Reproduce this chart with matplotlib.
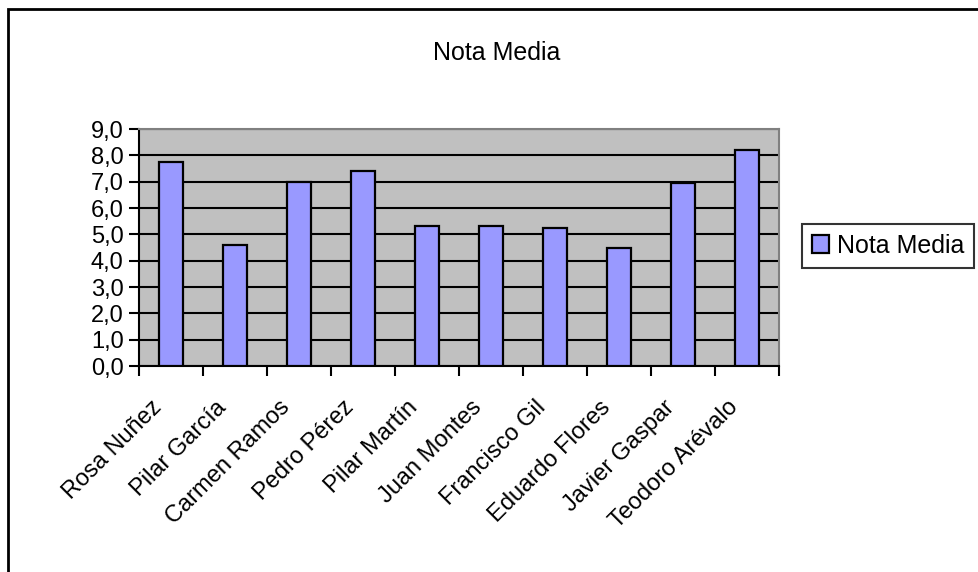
import matplotlib.pyplot as plt
from matplotlib.patches import Rectangle
from matplotlib.ticker import FuncFormatter
from matplotlib.transforms import ScaledTranslation

# data
alumnos = ['Rosa Nuñez', 'Pilar García', 'Carmen Ramos', 'Pedro Pérez', 'Pilar Martín',
           'Juan Montes', 'Francisco Gil', 'Eduardo Flores', 'Javier Gaspar', 'Teodoro Arévalo']
nota_media = [7.75, 4.6, 7.0, 7.4, 5.3, 5.3, 5.25, 4.5, 6.95, 8.2]
y_ticks = [0, 1, 2, 3, 4, 5, 6, 7, 8, 9]

plt.rcParams['font.family'] = ['Liberation Sans', 'DejaVu Sans']

W, H = 979, 572
fig = plt.figure(figsize=(W / 100, H / 100), dpi=100)
fig.patch.set_facecolor('white')

# outer chart border (left/top visible, rest runs off the picture)
fig.patches.append(Rectangle((8 / W, -0.05), 1.1, 1 - 9 / H + 0.05, transform=fig.transFigure,
                             fill=False, edgecolor='black', linewidth=2, zorder=0))

ax = fig.add_axes([139 / W, 1 - 366 / H, (779 - 139) / W, (366 - 129) / H])
ax.set_facecolor('#c0c0c0')

x = list(range(len(alumnos)))
ax.bar(x, nota_media, width=0.36, color='#9999ff', edgecolor='black', linewidth=1.6, zorder=3)

ax.set_xlim(-0.5, len(alumnos) - 0.5)
ax.set_ylim(0, 9)
ax.set_yticks(y_ticks)
ax.yaxis.set_major_formatter(FuncFormatter(lambda v, p: f'{v:.1f}'.replace('.', ',')))
ax.yaxis.grid(True, color='black', linewidth=1.5, zorder=1)
ax.set_axisbelow(True)

# category boundaries as ticks, names in the middle
ax.set_xticks([i - 0.5 for i in range(len(alumnos) + 1)])
ax.set_xticklabels([])
ax.set_xticks(x, minor=True)
ax.set_xticklabels(alumnos, minor=True, rotation=45, ha='right', va='top',
                   rotation_mode='anchor', fontsize=17)
ax.tick_params(axis='x', which='minor', length=0, pad=22)
ax.tick_params(axis='x', which='major', direction='out', length=7, width=1.5)
ax.tick_params(axis='y', direction='out', length=7, width=1.5, labelsize=17, pad=4)

shift = ScaledTranslation(-20 / 100, 0, fig.dpi_scale_trans)
for lbl in ax.get_xticklabels(minor=True):
    lbl.set_transform(lbl.get_transform() + shift)

for side in ['left', 'bottom']:
    ax.spines[side].set_color('black')
    ax.spines[side].set_linewidth(1.5)
for side in ['top', 'right']:
    ax.spines[side].set_color('#808080')
    ax.spines[side].set_linewidth(1.5)

fig.text(497 / W, 1 - 53 / H, 'Nota Media', ha='center', va='center', fontsize=18)

leg = ax.legend(['Nota Media'], loc='center left', bbox_to_anchor=(802 / W, 1 - 246 / H),
                bbox_transform=fig.transFigure, fontsize=18, frameon=True, fancybox=False,
                handlelength=0.7, handleheight=0.7, handletextpad=0.3, borderpad=0.4,
                borderaxespad=0)
leg.get_frame().set_edgecolor('black')
leg.get_frame().set_linewidth(1.5)

fig.savefig('out.png', dpi=100)
